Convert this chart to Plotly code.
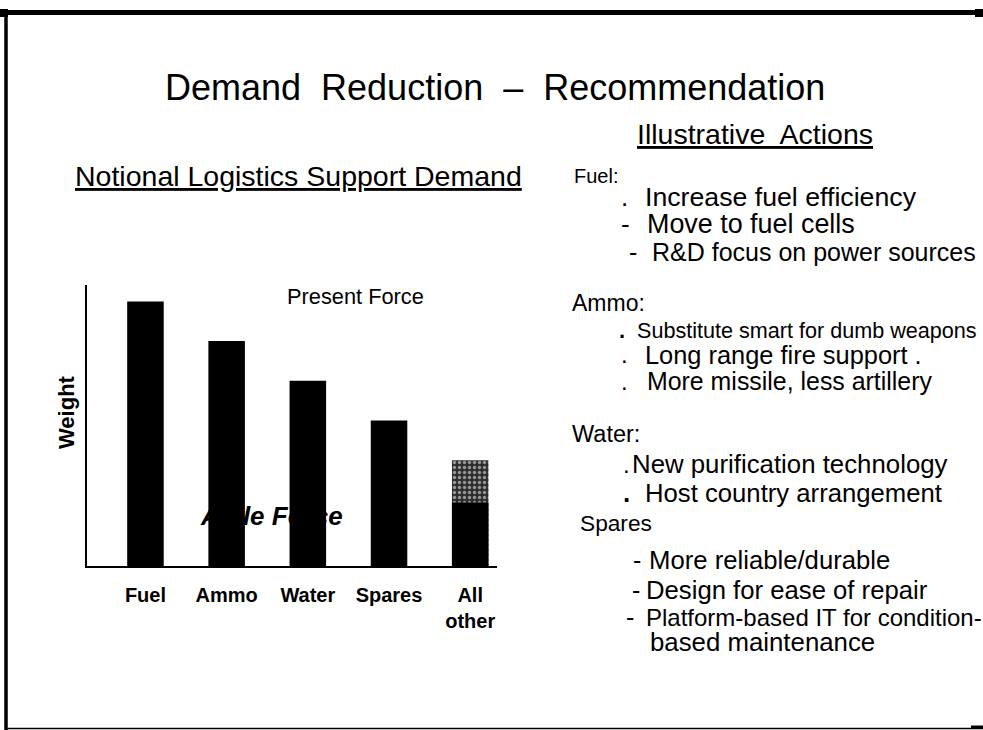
import plotly.graph_objects as go

# ---- data ----
categories = ["Fuel", "Ammo", "Water", "Spares", "All<br>other"]
present_force = [100, 85, 70, 55, 40]
agile_force = [None, None, None, None, 24]

W, H = 983, 730
ARIAL = "Liberation Sans, Arial, sans-serif"


def px(x):
    return x / W


def py(y):
    return (H - y) / H


xs = list(range(len(categories)))
fig = go.Figure()
fig.add_trace(go.Bar(
    x=xs, y=present_force, name="Present Force", width=0.45,
    marker=dict(color=["#000000"] * 4 + ["#2e2e2e"], line=dict(width=0),
                pattern=dict(shape=["", "", "", "", "."], fgcolor="#9a9a9a",
                             size=5, solidity=0.35)),
    showlegend=False, hoverinfo="skip",
))
ag_x = [x for x, v in zip(xs, agile_force) if v is not None]
ag_y = [v for v in agile_force if v is not None]
fig.add_trace(go.Bar(
    x=ag_x, y=ag_y, name="Agile Force", width=0.45,
    marker=dict(color="#000000", line=dict(width=0)),
    showlegend=False, hoverinfo="skip",
))

fig.update_layout(
    width=W, height=H, margin=dict(l=0, r=0, t=0, b=0),
    paper_bgcolor="white", plot_bgcolor="white", barmode="overlay",
    xaxis=dict(domain=[px(87), px(497)], range=[-0.72, 4.33],
               tickvals=xs, ticktext=categories,
               showline=True, linecolor="black", linewidth=2, showgrid=False,
               zeroline=False, ticks="", ticklabelstandoff=10,
               tickfont=dict(family=ARIAL, size=20, color="black", weight="bold")),
    yaxis=dict(domain=[py(566), py(285)], range=[0, 106.2], showline=True,
               linecolor="black", linewidth=2, showgrid=False, zeroline=False,
               showticklabels=False, ticks=""),
)

ann = []


def text(x, y, s, size, xanchor="left", font=None, **kw):
    f = dict(family=ARIAL, size=size, color="black")
    if font:
        f.update(font)
    ann.append(dict(x=px(x), y=py(y), xref="paper", yref="paper", text=s,
                    showarrow=False, xanchor=xanchor, yanchor="middle",
                    font=f, **kw))


text(163, 87, "Demand  Reduction  –  Recommendation", 36)
text(73, 176, "Notional Logistics Support Demand", 28.5, font=dict(lineposition="under"))
text(635, 134, "Illustrative  Actions", 28.5, font=dict(lineposition="under"))
text(285, 296, "Present Force", 21.8)
text(271, 516, "<b><i>Agile Force</i></b>", 26, xanchor="center")
text(66, 412, "<b>Weight</b>", 22, xanchor="center", textangle=-90)

right = [
    (572, 176, "Fuel:", 20),
    (619, 197, ".", 26),
    (643, 197, "Increase fuel efficiency", 26.7),
    (619, 224, "-", 26),
    (645, 224, "Move to fuel cells", 26.9),
    (627, 252, "-", 25),
    (650, 252, "R&amp;D focus on power sources", 25),
    (570, 303, "Ammo:", 23),
    (617, 330, "<b>.</b>", 22),
    (635, 330, "Substitute smart for dumb weapons", 21.6),
    (619, 355, ".", 24),
    (643, 355, "Long range fire support .", 25.4),
    (619, 381, ".", 24),
    (645, 381, "More missile, less artillery", 24.9),
    (570, 434, "Water:", 23.5),
    (621, 464, ".", 24),
    (630, 464, "New purification technology", 25.8),
    (621, 493, "<b>.</b>", 26),
    (643, 493, "Host country arrangement", 25.7),
    (578, 523, "Spares", 22.7),
    (631, 560, "-", 25),
    (647, 560, "More reliable/durable", 25.7),
    (630, 590, "-", 25),
    (644, 590, "Design for ease of repair", 25.7),
    (624, 617, "-", 25),
    (644, 617, "Platform-based IT for condition-", 24),
    (648, 642, "based maintenance", 25.8),
]
for x, y, s, size in right:
    text(x, y, s, size)

fig.update_layout(annotations=ann)

# page frame
P = dict(xref="paper", yref="paper")
shapes = [
    dict(type="line", x0=px(2), x1=1, y0=py(12.5), y1=py(12.5), line=dict(color="black", width=5), **P),
    dict(type="line", x0=px(6), x1=px(6), y0=py(10), y1=0, line=dict(color="black", width=3.5), **P),
    dict(type="line", x0=px(6), x1=1, y0=py(728.5), y1=py(728.5), line=dict(color="black", width=1.5), **P),
    dict(type="rect", x0=px(975), x1=1, y0=py(17), y1=py(9), fillcolor="black", line=dict(width=0), **P),
    dict(type="rect", x0=px(0), x1=px(8), y0=py(17), y1=py(9), fillcolor="black", line=dict(width=0), **P),
    dict(type="rect", x0=px(971), x1=1, y0=py(729), y1=py(725.5), fillcolor="black", line=dict(width=0), **P),
]
fig.update_layout(shapes=shapes)

fig.write_html("out.html", config={"displayModeBar": False},
               post_script="document.body.style.margin='0px';")
